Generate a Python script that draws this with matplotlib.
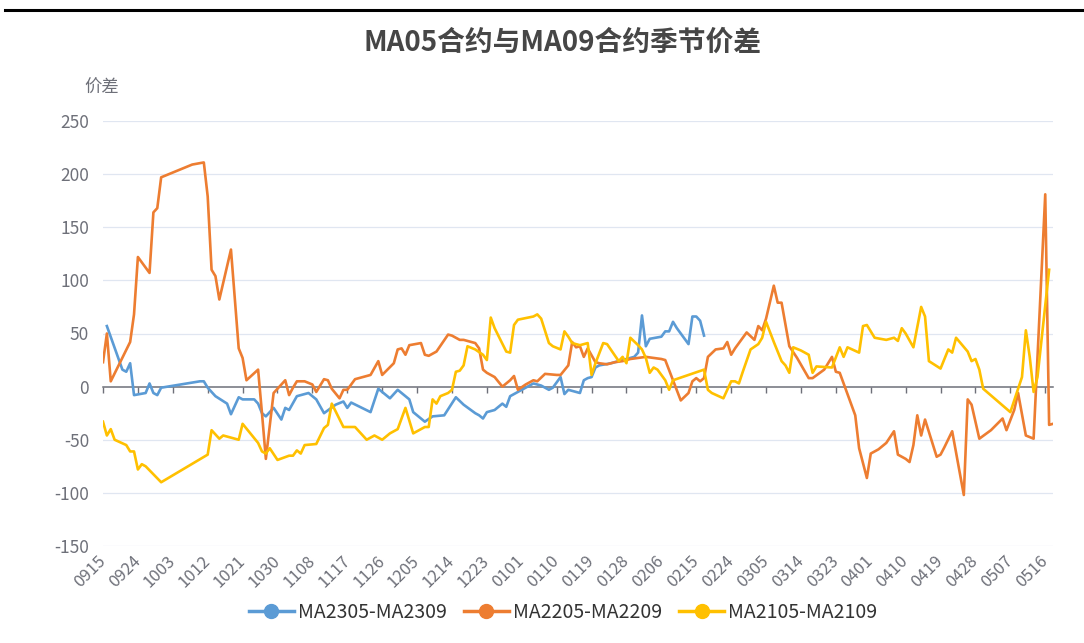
import matplotlib
matplotlib.use('Agg')
import matplotlib.pyplot as plt
from matplotlib.lines import Line2D
import pandas as pd

plt.rcParams['font.family'] = ['Noto Sans CJK SC', 'DejaVu Sans']
plt.rcParams['axes.unicode_minus'] = False

title = 'MA05合约与MA09合约季节价差'
y_name = '价差'
categories = pd.date_range('2022-09-15', '2023-05-18').strftime('%m%d').tolist()
tick_step = 9
y_ticks = [-150, -100, -50, 0, 50, 100, 150, 200, 250]

names = ['MA2305-MA2309', 'MA2205-MA2209', 'MA2105-MA2109']
colors = ['#5B9BD5', '#ED7D31', '#FFC000']

dates_2305 = ['0916', '0920', '0921', '0922', '0923', '0926', '0927', '0928', '0929', '0930',
              '1010', '1011', '1012', '1014', '1017', '1018', '1020', '1021', '1024', '1025',
              '1026', '1027', '1029', '1031', '1101', '1102', '1104', '1107', '1109', '1111',
              '1114', '1116', '1117', '1118', '1123', '1125', '1128', '1130', '1201', '1203',
              '1204', '1206', '1207', '1209', '1212', '1215', '1217', '1220', '1221', '1222',
              '1223', '1225', '1227', '1228', '1229', '1231', '0103', '0104', '0106', '0108',
              '0109', '0111', '0112', '0113', '0116', '0117', '0118', '0119', '0120', '0121',
              '0124', '0127', '0130', '0131', '0201', '0202', '0203', '0206', '0207', '0208',
              '0209', '0210', '0213', '0214', '0215', '0216', '0217']
values_2305 = [57, 16, 14, 22, -8, -6, 3, -6, -8, -1,
               5, 5, -1, -9, -16, -26, -10, -12, -12, -16,
               -25, -28, -20, -31, -20, -22, -9, -6, -12, -25,
               -17, -14, -20, -15, -24, -2, -11, -3, -6, -12,
               -24, -30, -33, -28, -27, -10, -17, -25, -27, -30,
               -24, -22, -16, -19, -9, -5, 1, 3, 1, -3,
               -1, 9, -7, -3, -6, 6, 8, 9, 18, 20,
               22, 25, 28, 32, 67, 38, 45, 47, 52, 52,
               61, 55, 40, 66, 66, 62, 48]

dates_2205 = ['0915', '0916', '0917', '0922', '0923', '0924', '0927', '0928', '0929', '0930',
              '1008', '1011', '1012', '1013', '1014', '1015', '1018', '1020', '1021', '1022',
              '1025', '1026', '1027', '1029', '1030', '1101', '1102', '1103', '1104', '1106',
              '1108', '1109', '1111', '1112', '1113', '1115', '1116', '1117', '1119', '1123',
              '1125', '1126', '1129', '1130', '1201', '1202', '1203', '1206', '1207', '1208',
              '1209', '1210', '1213', '1214', '1216', '1217', '1220', '1221', '1222', '1223',
              '1225', '1227', '1229', '1230', '1231', '0102', '0104', '0105', '0107', '0110',
              '0111', '0113', '0114', '0115', '0116', '0117', '0118', '0120', '0121', '0123',
              '0125', '0127', '0129', '0131', '0202', '0204', '0206', '0207', '0211', '0213',
              '0214', '0215', '0216', '0217', '0218', '0220', '0222', '0223', '0224', '0225',
              '0228', '0302', '0303', '0304', '0305', '0307', '0308', '0309', '0311', '0313',
              '0316', '0317', '0320', '0321', '0322', '0323', '0324', '0325', '0328', '0329',
              '0331', '0401', '0403', '0405', '0407', '0408', '0410', '0411', '0412', '0413',
              '0414', '0415', '0418', '0419', '0420', '0422', '0425', '0426', '0427', '0429',
              '0502', '0505', '0506', '0508', '0509', '0511', '0513', '0516', '0517', '0518']
values_2205 = [23, 50, 5, 42, 68, 122, 107, 164, 168, 197,
               209, 211, 179, 110, 104, 82, 129, 36, 27, 6,
               16, -25, -68, -6, -2, 6, -8, -1, 5, 5,
               2, -5, 7, 6, -2, -11, -3, -3, 7, 11,
               24, 11, 22, 35, 36, 30, 39, 41, 30, 29,
               31, 33, 49, 48, 44, 44, 41, 36, 16, 13,
               9, 0, 6, 10, -3, 2, 6, 5, 12, 11,
               11, 20, 42, 37, 38, 28, 36, 23, 22, 21,
               23, 24, 26, 27, 28, 27, 26, 25, -13, -6,
               5, 8, 5, 8, 28, 35, 36, 42, 30, 36,
               51, 44, 57, 53, 64, 95, 79, 79, 38, 27,
               8, 8, 16, 22, 28, 14, 13, 3, -27, -58,
               -86, -63, -59, -53, -42, -64, -68, -71, -55, -27,
               -46, -31, -66, -64, -57, -42, -102, -12, -17, -49,
               -41, -30, -41, -22, -6, -46, -49, 181, -36, -35]

dates_2105 = ['0915', '0916', '0917', '0918', '0921', '0922', '0923', '0924', '0925', '0926',
              '0930', '1012', '1013', '1015', '1016', '1020', '1021', '1025', '1026', '1027',
              '1028', '1030', '1102', '1103', '1104', '1105', '1106', '1109', '1111', '1112',
              '1113', '1116', '1119', '1122', '1124', '1126', '1128', '1130', '1202', '1204',
              '1206', '1207', '1208', '1209', '1210', '1211', '1213', '1214', '1215', '1216',
              '1217', '1218', '1220', '1222', '1223', '1224', '1225', '1228', '1229', '1230',
              '1231', '0104', '0105', '0106', '0108', '0109', '0111', '0112', '0113', '0114',
              '0116', '0118', '0119', '0120', '0122', '0123', '0126', '0127', '0128', '0129',
              '0131', '0201', '0202', '0203', '0204', '0205', '0207', '0208', '0209', '0217',
              '0218', '0219', '0222', '0224', '0225', '0226', '0227', '0301', '0303', '0304',
              '0305', '0307', '0309', '0310', '0311', '0312', '0314', '0316', '0317', '0318',
              '0322', '0324', '0325', '0326', '0329', '0330', '0331', '0402', '0405', '0407',
              '0408', '0409', '0410', '0412', '0414', '0415', '0416', '0419', '0421', '0422',
              '0423', '0426', '0427', '0428', '0429', '0430', '0507', '0510', '0511', '0512',
              '0513', '0514', '0517']
values_2105 = [-33, -46, -40, -50, -55, -61, -61, -78, -73, -75,
               -90, -64, -41, -49, -46, -50, -35, -53, -61, -63,
               -58, -69, -65, -65, -60, -63, -55, -54, -39, -36,
               -16, -38, -38, -50, -46, -50, -44, -40, -20, -44,
               -40, -38, -38, -12, -16, -9, -6, -3, 14, 15,
               20, 38, 35, 30, 25, 65, 55, 33, 32, 58,
               63, 66, 68, 64, 41, 38, 35, 52, 47, 41,
               39, 41, 11, 22, 41, 40, 24, 28, 22, 46,
               39, 35, 27, 13, 18, 16, 6, -3, 6, 16,
               -3, -6, -11, 5, 5, 3, 14, 35, 40, 46,
               61, 42, 24, 20, 13, 37, 34, 30, 13, 19,
               18, 37, 28, 37, 32, 57, 58, 46, 44, 46,
               43, 55, 50, 37, 75, 66, 24, 17, 35, 32,
               46, 33, 24, 26, 16, -2, -24, 9, 53, 28,
               -5, 9, 110]

series = [(dates_2305, values_2305), (dates_2205, values_2205), (dates_2105, values_2105)]

W, H = 1084, 643
fig = plt.figure(figsize=(W / 100, H / 100), dpi=100)
L, R, T, B = 103, 1053, 121, 546
ax = fig.add_axes([L / W, 1 - B / H, (R - L) / W, (B - T) / H])

axis_col = '#6E7079'
grid_col = '#E0E6F1'

pos = {d: i for i, d in enumerate(categories)}
for (ds, vs), name, col in zip(series, names, colors):
    xs = [pos[d] for d in ds]
    ax.plot(xs, vs, color=col, lw=1.9, solid_joinstyle='round', zorder=3, label=name)

ax.set_xlim(0, len(categories) - 1)
ax.set_ylim(y_ticks[0], y_ticks[-1])
ax.set_yticks(y_ticks)
for v in y_ticks:
    if v != 0:
        ax.axhline(v, color=grid_col, lw=0.9, zorder=1)
for s in ax.spines.values():
    s.set_visible(False)

tick_pos = list(range(0, len(categories), tick_step))
ax.set_xticks(tick_pos)
ax.set_xticklabels([categories[i] for i in tick_pos], rotation=45, ha='right', va='center',
                   rotation_mode='anchor', fontsize=12, color=axis_col)
ax.tick_params(axis='x', length=0, pad=9)
ax.tick_params(axis='y', length=0, pad=10, labelsize=12.5, labelcolor=axis_col)

# zero axis line with ticks
zero_frac = (0 - y_ticks[0]) / (y_ticks[-1] - y_ticks[0])
sec = ax.secondary_xaxis(zero_frac)
sec.set_xticks(tick_pos)
sec.set_xticklabels([])
sec.tick_params(axis='x', length=4, width=1, color=axis_col, direction='out')
sec.spines['bottom'].set_color(axis_col)
sec.spines['bottom'].set_linewidth(1.1)

fig.text(563 / W, 1 - 43 / H, title, ha='center', va='center', fontsize=20,
         fontweight='bold', color='#464646')
fig.text(102 / W, 1 - 88 / H, y_name, ha='center', va='center', fontsize=12.5, color=axis_col)

handles = [Line2D([], [], color=c, lw=2.5, marker='o', markersize=10) for c in colors]
fig.legend(handles, names, loc='center', bbox_to_anchor=(563 / W, 1 - 612 / H),
           ncol=3, frameon=False, fontsize=14, handlelength=2.3, handletextpad=0.2,
           columnspacing=0.9, labelcolor='#333333')

fig.add_artist(Line2D([5 / W, 1], [1 - 10 / H, 1 - 10 / H], color='black', lw=2.2))

fig.savefig('out.png', dpi=100)
